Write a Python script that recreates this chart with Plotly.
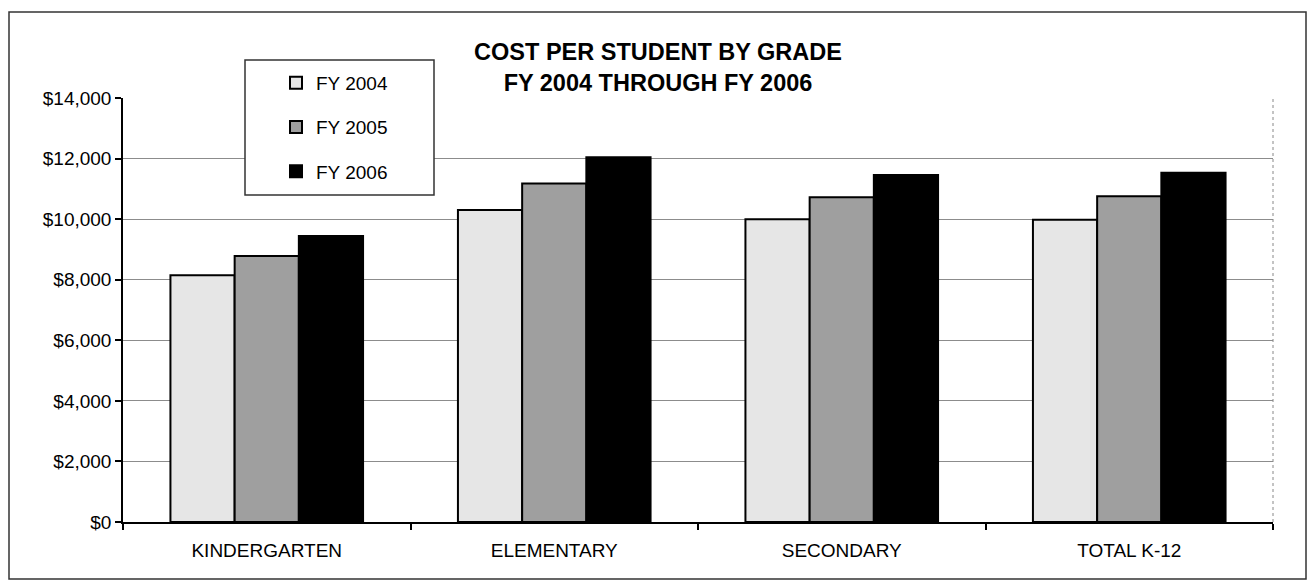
import plotly.graph_objects as go

categories = ["KINDERGARTEN", "ELEMENTARY", "SECONDARY", "TOTAL K-12"]
fy2004 = [8150, 10300, 10000, 9980]
fy2005 = [8780, 11180, 10720, 10760]
fy2006 = [9440, 12040, 11460, 11530]
series_names = ["FY 2004", "FY 2005", "FY 2006"]
y_ticks = [0, 2000, 4000, 6000, 8000, 10000, 12000, 14000]
y_tick_labels = ["$" + format(v, ",") for v in y_ticks]

FONT = "Arial, 'Liberation Sans', sans-serif"
colors = ["#e6e6e6", "#9f9f9f", "#000000"]

fig = go.Figure()
for name, vals, col in zip(series_names, [fy2004, fy2005, fy2006], colors):
    fig.add_trace(go.Bar(
        x=categories, y=vals, name=name, legendgroup=name,
        marker=dict(color=col, line=dict(color="#000000", width=2)),
    ))

W, H = 1307, 580
L, R, T, B = 123, 34, 98, 58
pw, ph = W - L - R, H - T - B

def px_x(x):
    return (x - L) / pw

def px_y(y):
    return (H - B - y) / ph

fig.update_layout(
    width=W, height=H,
    margin=dict(l=L, r=R, t=T, b=B),
    paper_bgcolor="white", plot_bgcolor="white",
    font=dict(family=FONT, size=19, color="#000000"),
    barmode="group", bargap=0.33, bargroupgap=0,
    title=dict(
        text="<b>COST PER STUDENT BY GRADE<br>FY 2004 THROUGH FY 2006</b>",
        x=658 / W, xanchor="center", xref="container",
        y=1 - 60 / H, yanchor="middle", yref="container",
        font=dict(family=FONT, size=23.5, color="#000000"),
    ),
    legend=dict(
        x=px_x(276), y=px_y(64), xanchor="left", yanchor="top",
        bgcolor="rgba(0,0,0,0)", borderwidth=0,
        traceorder="grouped", tracegroupgap=16.5,
        font=dict(family=FONT, size=19, color="#000000"),
    ),
    xaxis=dict(
        showline=True, linecolor="#000000", linewidth=1.5,
        ticks="outside", ticklen=6, tickcolor="#000000", tickwidth=1.5,
        tickson="boundaries", showgrid=False,
        ticklabelstandoff=10,
        tickfont=dict(family=FONT, size=19, color="#000000"),
    ),
    yaxis=dict(
        range=[0, 14000], tickmode="array", tickvals=y_ticks, ticktext=y_tick_labels,
        showline=True, linecolor="#000000", linewidth=1.5,
        ticks="outside", ticklen=6, tickcolor="#000000", tickwidth=1.5,
        showgrid=True, gridcolor="#8c8c8c", gridwidth=1,
        zeroline=False,
        tickfont=dict(family=FONT, size=19, color="#000000"),
    ),
    shapes=[
        dict(type="rect", xref="paper", yref="paper",
             x0=px_x(9), x1=px_x(1306), y0=px_y(579), y1=px_y(12),
             line=dict(color="#333333", width=1.5), layer="below"),
        dict(type="line", xref="paper", yref="paper",
             x0=1, x1=1, y0=0, y1=1,
             line=dict(color="#888888", width=1, dash="dot")),
        dict(type="rect", xref="paper", yref="paper",
             x0=px_x(245), x1=px_x(434), y0=px_y(195), y1=px_y(60),
             line=dict(color="#333333", width=1.5), fillcolor="white",
             layer="above"),
    ],
)

fig.write_html("out.html")
